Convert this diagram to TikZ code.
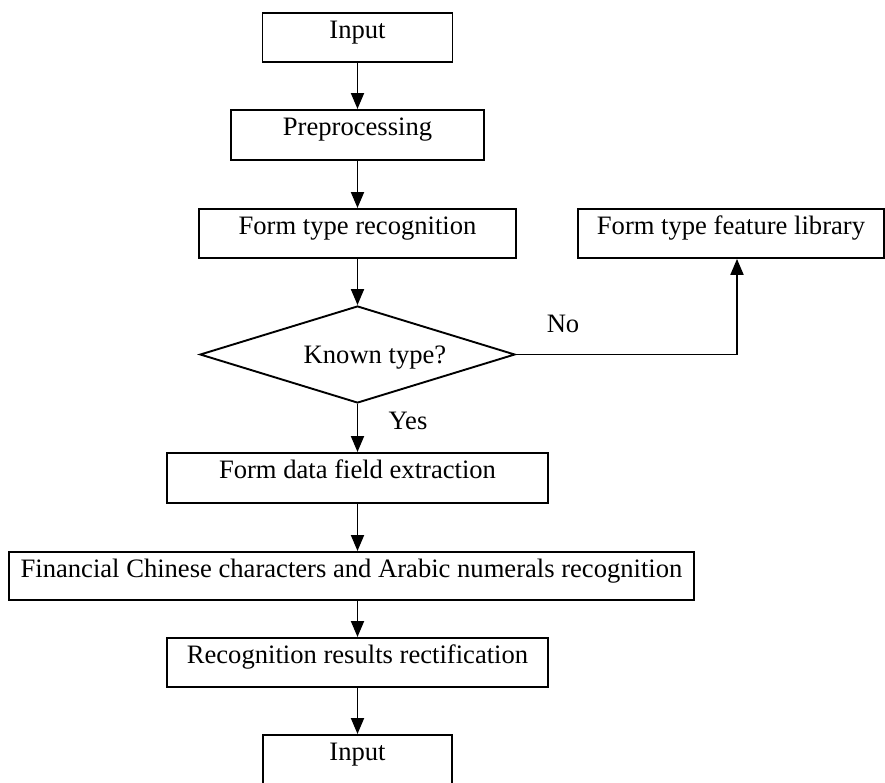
\documentclass[tikz,border=0pt]{standalone}
\usepackage{fontspec}
\setmainfont{Liberation Serif}
\usetikzlibrary{arrows.meta,shapes.geometric}
\begin{document}
\begin{tikzpicture}[x=1pt,y=-1pt,
  every node/.style={font=\fontsize{26.6}{32}\selectfont},
  box/.style={draw,line width=1.9pt,inner sep=0pt,text height=26pt,anchor=north},
  arr/.style={line width=1.9pt,-{Triangle[length=16pt,width=13pt]}}]
\useasboundingbox (0,0) rectangle (885,782);
\node[box,minimum width=190pt,text depth=23pt] (in1) at (357.5,12) {Input};
\node[box,minimum width=253pt,text depth=24pt] (pre) at (357.5,109) {Preprocessing};
\node[box,minimum width=317pt,text depth=23pt] (ftr) at (357.5,208) {Form type recognition};
\node[box,minimum width=306pt,text depth=23pt] (ftl) at (731,208) {Form type feature library};
\node[diamond,draw,line width=1.9pt,inner sep=0pt,minimum width=315pt,minimum height=97pt,aspect=3.25] (dia) at (357.5,354.5) {};
\node[anchor=base] (kt) at (375,363) {Known type?};
\node[box,minimum width=381pt,text depth=24pt] (fdf) at (357.5,452) {Form data field extraction};
\node[box,minimum width=685pt,text depth=22pt] (fin) at (351.5,551) {Financial Chinese characters and Arabic numerals recognition};
\node[box,minimum width=381pt,text depth=23pt] (rec) at (357.5,637) {Recognition results rectification};
\node[box,minimum width=189pt,text depth=23pt] (in2) at (357.5,734) {Input};
\node[anchor=base] (yes) at (408,429) {Yes};
\node[anchor=base] (no) at (563,332) {No};
\coordinate (nc) at (737,354.5);
\draw[arr] (in1.south) -- (pre.north);
\draw[arr] (pre.south) -- (ftr.north);
\draw[arr] (ftr.south) -- (dia.north);
\draw[arr] (dia.south) -- (fdf.north);
\draw[arr] (fdf.south) -- (fdf.south |- fin.north);
\draw[arr] (rec.north |- fin.south) -- (rec.north);
\draw[arr] (rec.south) -- (in2.north);
\draw[arr] (dia.east) -- (nc) -- (nc |- ftl.south);
\end{tikzpicture}
\end{document}
